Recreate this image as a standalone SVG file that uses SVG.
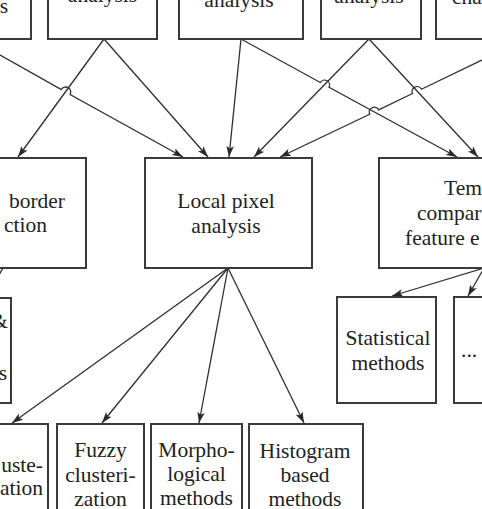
<svg xmlns="http://www.w3.org/2000/svg" width="482" height="509" viewBox="0 0 482 509">
<defs>
<marker id="ah" markerWidth="12" markerHeight="8" refX="11" refY="3.75" orient="auto" markerUnits="userSpaceOnUse">
<path d="M0,0 L11,3.75 L0,7.5 L2.5,3.75 z" fill="#2a2a2a"/>
</marker>
<style>
.box{fill:#fff;stroke:#3a3a3a;stroke-width:2}
.t{font-family:"Liberation Serif","Times New Roman",serif;font-size:21.5px;fill:#222}
.m{text-anchor:middle}
.e{text-anchor:end}
.c{fill:none;stroke:#2e2e2e;stroke-width:1.3}
.a{marker-end:url(#ah)}
</style>
</defs>
<rect width="482" height="509" fill="#fff"/>
<g id="connectors">
<path class="c a" d="M -10 49.4 L 61.34 89.55 A 5 5 0 0 1 70.06 94.45 L 183 157"/>
<path class="c a" d="M 104 39 L 18 157"/>
<path class="c a" d="M 104 39 L 208 157"/>
<path class="c a" d="M 241 39 L 229 157"/>
<path class="c a" d="M 241 39 L 320.28 82.48 A 5 5 0 0 1 329.04 87.28 L 457 157"/>
<path class="c a" d="M 369 39 L 254 157"/>
<path class="c a" d="M 369 39 L 478 157"/>
<path class="c a" d="M 492 55.17 L 421.48 89.22 A 5 5 0 0 0 412.48 93.56 L 378.69 109.88 A 5 5 0 0 0 369.69 114.22 L 280 157"/>
<path class="c" d="M 3 268 L -7 285"/>
<path class="c a" d="M 484 268 L 392 296"/>
<path class="c a" d="M 484 268 L 468 296"/>
<path class="c a" d="M 228 268 L 12 423"/>
<path class="c a" d="M 228 268 L 102 423"/>
<path class="c a" d="M 228 268 L 199 423"/>
<path class="c a" d="M 228 268 L 304 423"/>
</g>
<g id="nodeA"><rect class="box" x="-20" y="-20" width="51" height="59"/><text class="t e" x="8" y="13">s</text></g>
<g id="nodeB"><rect class="box" x="48" y="-20" width="109" height="59"/><text class="t m" x="102.5" y="2">analysis</text></g>
<g id="nodeC"><rect class="box" x="179" y="-20" width="124" height="59"/><text class="t m" x="239" y="7">analysis</text></g>
<g id="nodeD"><rect class="box" x="321" y="-20" width="100" height="59"/><text class="t m" x="369" y="3">analysis</text></g>
<g id="nodeE"><rect class="box" x="436" y="-20" width="80" height="59"/><text class="t" x="452" y="4">cha</text></g>
<g id="nodeF"><rect class="box" x="-40" y="158" width="126" height="110"/><text class="t e" x="65" y="208">border</text><text class="t e" x="47" y="232">ction</text></g>
<g id="nodeG"><rect class="box" x="145" y="158" width="167" height="110"/><text class="t m" x="226" y="208">Local pixel</text><text class="t m" x="226" y="233">analysis</text></g>
<g id="nodeH"><rect class="box" x="379" y="158" width="220" height="110"/><text class="t" x="444" y="195">Tem</text><text class="t" x="417" y="220">compar</text><text class="t" x="405" y="245">feature e</text></g>
<g id="nodeI"><rect class="box" x="-40" y="298" width="51" height="105"/><text class="t e" x="8" y="328">&amp;</text><text class="t e" x="7" y="380">s</text></g>
<g id="nodeJ"><rect class="box" x="337" y="297" width="99" height="106"/><text class="t m" x="388" y="345">Statistical</text><text class="t m" x="388" y="370">methods</text></g>
<g id="nodeK"><rect class="box" x="454" y="297" width="66" height="106"/><text class="t" x="461" y="357">...</text></g>
<g id="nodeL"><rect class="box" x="-40" y="424" width="88" height="100"/><text class="t e" x="43" y="472">uste-</text><text class="t e" x="43" y="495">ation</text></g>
<g id="nodeM"><rect class="box" x="57" y="424" width="87" height="100"/><text class="t m" x="100.5" y="457">Fuzzy</text><text class="t m" x="100.5" y="482">clusteri-</text><text class="t m" x="100.5" y="506">zation</text></g>
<g id="nodeN"><rect class="box" x="151" y="424" width="91" height="100"/><text class="t m" x="196.5" y="457">Morpho-</text><text class="t m" x="196.5" y="481">logical</text><text class="t m" x="196.5" y="505">methods</text></g>
<g id="nodeO"><rect class="box" x="249" y="424" width="114" height="100"/><text class="t m" x="305" y="458">Histogram</text><text class="t m" x="305" y="482">based</text><text class="t m" x="305" y="506">methods</text></g>
</svg>
